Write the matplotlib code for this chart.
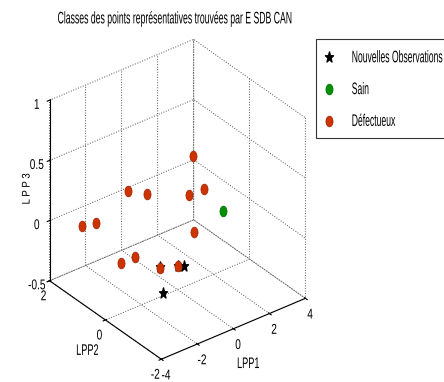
import matplotlib
matplotlib.use("Agg")
import numpy as np
import matplotlib.pyplot as plt
from matplotlib.path import Path
from matplotlib.markers import MarkerStyle
from matplotlib.patheffects import AbstractPathEffect
from matplotlib.transforms import Affine2D
from mpl_toolkits.mplot3d import Axes3D  # noqa

plt.rcParams['axes.unicode_minus'] = False
plt.rcParams['grid.linestyle'] = ':'
plt.rcParams['grid.color'] = '#555555'
plt.rcParams['grid.linewidth'] = 0.7
plt.rcParams['font.family'] = ['Liberation Sans', 'DejaVu Sans']

# Data (LPP1, LPP2, LPP3)
def_x = [0.85, 1.46, 0.66, -2.76, -1.69, -2.97, -2.18, 0.92, -2.36, -1.61, -0.96, 0.04]
def_y = [0.0, 0.0, 0.0, 0.0, 0.0, 1.5, 1.5, 0.0, 0.5, 0.5, 0.0, 0.0]
def_z = [0.56, 0.24, 0.24, 0.49, 0.40, -0.03, -0.05, -0.08, -0.21, -0.21, -0.26, -0.31]

sain_x = [2.52]
sain_y = [0.0]
sain_z = [-0.01]

obs_x = [-0.96, 0.04, 0.34, -0.83]
obs_y = [0.0, 0.0, 0.0, 0.0]
obs_z = [-0.255, -0.31, -0.33, -0.48]

xticks = [-4, -2, 0, 2, 4]
yticks = [-2, 0, 2]
zticks = [-0.5, 0, 0.5, 1]
zticklabels = ['-0.5', '0', '0.5', '1']


class Stretch(AbstractPathEffect):
    """Draw text stretched vertically (condensed look) around the cap-height centre."""
    def __init__(self, sy=2.0):
        super().__init__()
        self.sy = sy

    def draw_path(self, renderer, gc, tpath, affine, rgbFace=None):
        v = tpath.vertices
        sign = 1.0 if (len(v) == 0 or np.median(v[:, 1]) >= 0) else -1.0
        c = 36.0 * sign
        t = Affine2D().translate(0, -c).scale(1, self.sy).translate(0, c)
        renderer.draw_path(gc, tpath, t + affine, rgbFace)


# condensed marker shapes (the reference is horizontally compressed)
circ = Path.unit_circle()
ellipse = Path(circ.vertices * np.array([0.66, 1.0]), circ.codes)
star_ms = MarkerStyle('*')
sp = star_ms.get_path().transformed(star_ms.get_transform())
star = Path(sp.vertices * np.array([0.75, 1.0]), sp.codes)

fig = plt.figure(figsize=(4.44, 3.82), dpi=100)
ax = fig.add_axes([0.03, 0.007, 0.72, 0.92], projection='3d', proj_type='ortho')
ax.view_init(elev=33, azim=-127.8)
ax.set_box_aspect((1, 1, 1.18), zoom=1.02)

ax.scatter(obs_x, obs_y, obs_z, marker=star, s=65, c='k', depthshade=False,
           label='Nouvelles Observations', zorder=5)
ax.scatter(sain_x, sain_y, sain_z, marker=ellipse, s=60, c='#009000',
           edgecolors='#007000', linewidths=0.5, depthshade=False, label='Sain')
ax.scatter(def_x, def_y, def_z, marker=ellipse, s=60, c='#CC3300',
           edgecolors='#A02000', linewidths=0.5, depthshade=False, label='Défectueux')

ax.set_xlim(-4, 4)
ax.set_ylim(-2, 2)
ax.set_zlim(-0.5, 1)
ax.set_xticks(xticks)
ax.set_yticks(yticks)
ax.set_zticks(zticks)
ax.set_zticklabels(zticklabels)

for axis in (ax.xaxis, ax.yaxis, ax.zaxis):
    axis.set_pane_color((1, 1, 1, 0))
    axis.pane.set_edgecolor((1, 1, 1, 0))
    axis.line.set_color('k')
    axis.line.set_linewidth(0.8)

ax.tick_params(axis='x', labelsize=7.3, pad=-3)
ax.tick_params(axis='y', labelsize=7.3, pad=-3)
ax.tick_params(axis='z', labelsize=7.3, pad=-2)

for axis in (ax.xaxis, ax.yaxis, ax.zaxis):
    for tk in axis.get_major_ticks():
        tk.label1.set_path_effects([Stretch(1.4)])

ax.set_xlabel('LPP1', fontsize=6.6, labelpad=-5)
ax.set_ylabel('LPP2', fontsize=6.6, labelpad=-6)
ax.set_zlabel('L P P 3', fontsize=7, labelpad=-10)
ax.xaxis.label.set_path_effects([Stretch(1.67)])
ax.yaxis.label.set_path_effects([Stretch(1.67)])
ax.zaxis.label.set_path_effects([Stretch(1.15)])

fig.text(175 / 444, 1 - 18 / 382, 'Classes des points représentatives trouvées par E SDB CAN',
         ha='center', va='center', fontsize=6.25, path_effects=[Stretch(1.93)])

leg = fig.legend(loc='upper left', bbox_to_anchor=(316 / 444, 1 - 39 / 382), fontsize=6.2,
                 frameon=True, fancybox=False, edgecolor='k', borderpad=1.55,
                 labelspacing=2.65, handlelength=0.0, handletextpad=2.6,
                 borderaxespad=0)
leg.get_frame().set_linewidth(0.8)
for t in leg.get_texts():
    t.set_path_effects([Stretch(1.95)])

fig.savefig('out.png', dpi=100)
